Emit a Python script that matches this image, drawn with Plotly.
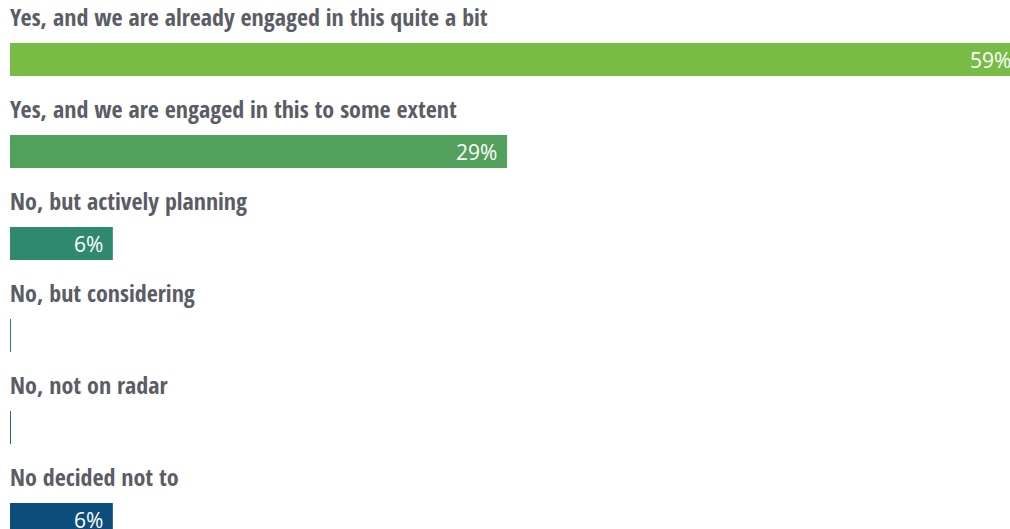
import plotly.graph_objects as go

categories = [
    "Yes, and we are already engaged in this quite a bit",
    "Yes, and we are engaged in this to some extent",
    "No, but actively planning",
    "No, but considering",
    "No, not on radar",
    "No decided not to",
]
values = [59, 29, 6, 0, 0, 6]
colors = ["#78bc45", "#53a05d", "#2e896f", "#23808a", "#1a6d8b", "#0c4d7c"]

W, H = 1010, 529
XMAX = 1000 / 17.14
pos = list(range(len(categories)))

fig = go.Figure()
fig.add_trace(go.Bar(
    x=values, y=pos, orientation="h",
    marker=dict(color=colors, line=dict(width=0)),
    width=0.3587, hoverinfo="skip",
))

label_font = dict(family="Open Sans Condensed", size=24, color="#5b5d66")
for i, (c, v) in enumerate(zip(categories, values)):
    fig.add_annotation(x=0, y=i, xref="x", yref="y", text="<b>%s</b>" % c,
                       showarrow=False, xanchor="left", yanchor="bottom",
                       yshift=24.5, xshift=-2, font=label_font)
    if v > 0:
        fig.add_annotation(x=v / XMAX, y=i, xref="paper", yref="y", text="%d%%" % v,
                           showarrow=False, xanchor="right", yanchor="middle",
                           xshift=-8, font=dict(family="Open Sans", size=21, color="white"))
    else:
        fig.add_shape(type="line", xref="x", yref="y", x0=v, x1=v,
                      y0=i - 0.18, y1=i + 0.18,
                      line=dict(color=colors[i], width=2))

fig.update_layout(
    width=W, height=H,
    margin=dict(l=10, r=0, t=0, b=0),
    paper_bgcolor="white", plot_bgcolor="white",
    showlegend=False,
    xaxis=dict(range=[0, XMAX], visible=False, fixedrange=True),
    yaxis=dict(range=[(529 - 59.5) / 92, -0.5 - 13.5 / 92], visible=False, fixedrange=True),
)
fig.write_html("out.html", config={"displayModeBar": False, "staticPlot": True},
               post_script="document.body.style.margin='0';")
